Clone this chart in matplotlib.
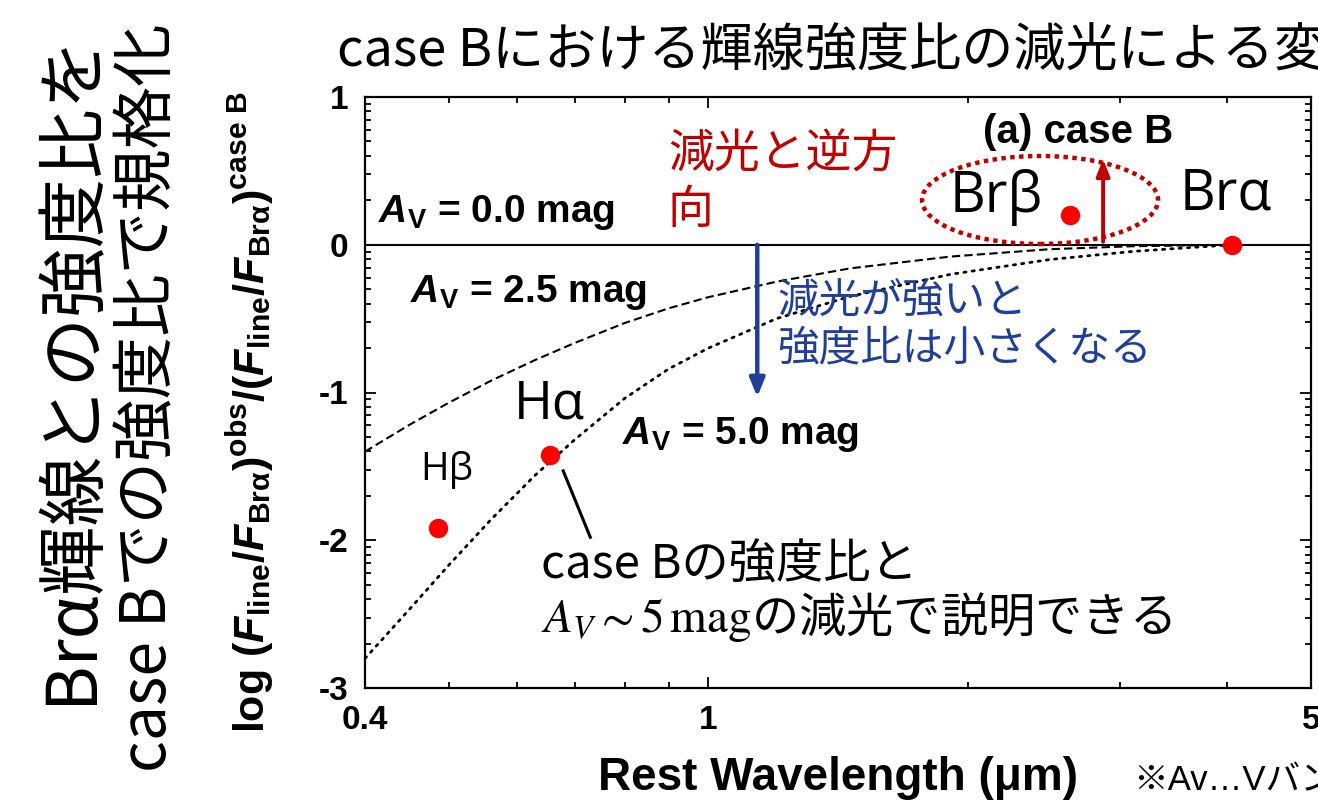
import numpy as np
import matplotlib
matplotlib.use("Agg")
import matplotlib.pyplot as plt
from matplotlib.patches import Ellipse
from matplotlib.ticker import FixedLocator, NullFormatter

# ---------------- data ----------------
line_names = ["Hβ", "Hα", "Brβ", "Brα"]
line_wavelength = [0.486, 0.656, 2.625, 4.05]
line_log_ratio = [-1.92, -1.42, 0.20, 0.0]

av25_wavelength = [0.40, 0.45, 0.50, 0.56, 0.63, 0.70, 0.80, 0.90, 1.0, 1.2, 1.46, 1.91, 2.49, 3.11, 4.05]
av25_log_ratio = [-1.40, -1.22, -1.07, -0.92, -0.78, -0.665, -0.53, -0.43, -0.355, -0.25, -0.16, -0.08, -0.03, -0.01, 0.0]

av50_wavelength = [0.40, 0.45, 0.50, 0.56, 0.63, 0.70, 0.80, 0.90, 1.0, 1.2, 1.46, 1.91, 2.49, 3.11, 4.05]
av50_log_ratio = [-2.80, -2.47, -2.17, -1.86, -1.56, -1.32, -1.04, -0.84, -0.70, -0.50, -0.35, -0.20, -0.10, -0.045, 0.0]

x_major = [0.4, 1, 5]
x_major_labels = ["0.4", "1", "5"]
x_minor = [0.5, 0.6, 0.7, 0.8, 0.9, 2, 3, 4]
y_major = [-3, -2, -1, 0, 1]
y_major_labels = ["-3", "-2", "-1", "0", "1"]

# ---------------- style ----------------
plt.rcParams['font.family'] = ['Liberation Sans', 'Noto Sans CJK JP', 'DejaVu Sans']
plt.rcParams['axes.unicode_minus'] = False
plt.rcParams['mathtext.fontset'] = 'custom'
plt.rcParams['mathtext.rm'] = 'Liberation Sans'
plt.rcParams['mathtext.it'] = 'Liberation Sans:italic'
plt.rcParams['mathtext.bf'] = 'Liberation Sans:bold'
try:
    plt.rcParams['mathtext.bfit'] = 'Liberation Sans:bold:italic'
except KeyError:
    pass

W, H = 1318, 801
fig = plt.figure(figsize=(W / 100, H / 100), dpi=100)

def px(x, y):
    return (x / W, 1 - y / H)

ax_l, ax_r, ax_t, ax_b = 365, 1311, 97, 688
ax = fig.add_axes([ax_l / W, 1 - ax_b / H, (ax_r - ax_l) / W, (ax_b - ax_t) / H])
ax.set_xscale('log')
ax.set_xlim(0.4, 5)
ax.set_ylim(-3, 1)

for s in ax.spines.values():
    s.set_linewidth(1.6)

ax.xaxis.set_major_locator(FixedLocator(x_major))
ax.set_xticklabels(x_major_labels)
ax.xaxis.set_minor_locator(FixedLocator(x_minor))
ax.xaxis.set_minor_formatter(NullFormatter())
ax.yaxis.set_major_locator(FixedLocator(y_major))
ax.set_yticklabels(y_major_labels)
y_minor = [m + np.log10(k) for m in range(-3, 1) for k in range(2, 10)]
ax.yaxis.set_minor_locator(FixedLocator(y_minor))
ax.tick_params(which='both', direction='in', top=True, right=True, width=1.3)
ax.tick_params(which='major', length=8, labelsize=24, pad=12)
ax.tick_params(which='minor', length=4.5)
for lab in ax.get_xticklabels() + ax.get_yticklabels():
    lab.set_fontweight('bold')

# zero line
ax.axhline(0, color='black', lw=1.5, zorder=2)

# extinction curves
ax.plot(av25_wavelength, av25_log_ratio, color='black', lw=1.5,
        linestyle=(0, (4, 2)), zorder=3)
ax.plot(av50_wavelength, av50_log_ratio, color='black', lw=2.0,
        linestyle=(0, (0.8, 2.2)), dash_capstyle='round', zorder=3)

# points
ax.plot(line_wavelength, line_log_ratio, 'o', color='#ff0000', ms=14, mec='none', zorder=5)

# arrows
ax.annotate('', xy=(1.14, -1.03), xytext=(1.14, 0.0),
            arrowprops=dict(arrowstyle='-|>,head_width=0.45,head_length=1.1',
                            color='#1f3f99', lw=3.2, shrinkA=0, shrinkB=0), zorder=4)
ax.annotate('', xy=(2.87, 0.58), xytext=(2.87, 0.02),
            arrowprops=dict(arrowstyle='-|>,head_width=0.4,head_length=1.0',
                            color='#c00000', lw=2.8, shrinkA=0, shrinkB=0), zorder=4)

# pointer line from Halpha
ax.plot([0.679, 0.730], [-1.53, -1.98], color='black', lw=2.2, zorder=4)

# dotted ellipse around Br beta
ell = Ellipse(((1040 - ax_l) / (ax_r - ax_l), (ax_b - 200) / (ax_b - ax_t)),
              236 / (ax_r - ax_l), 88 / (ax_b - ax_t), transform=ax.transAxes,
              fill=False, edgecolor='#c00000', lw=3.2, linestyle=(0, (1, 1)), zorder=4)
ax.add_patch(ell)

# ---------------- texts ----------------
cjk = ['Noto Sans CJK JP', 'DejaVu Sans']
lat = ['Open Sans', 'Noto Sans CJK JP', 'DejaVu Sans']

fig.text(*px(337, 52), 'case Bにおける輝線強度比の減光による変化', family=cjk,
         fontsize=37.5, ha='left', va='center')

fig.text(*px(72, 368), 'Brα輝線との強度比を', family=cjk, fontsize=50,
         rotation=90, ha='center', va='center')
fig.text(*px(148, 398), 'case Bでの強度比で規格化', family=cjk, fontsize=45,
         rotation=90, ha='center', va='center')

fig.text(*px(250, 412),
         r"log ($\mathbfit{F}_{\mathbf{line}}$/$\mathbfit{F}_{\mathbf{Br\alpha}}$)$^{\mathbf{obs}}$"
         r"/($\mathbfit{F}_{\mathbf{line}}$/$\mathbfit{F}_{\mathbf{Br\alpha}}$)$^{\mathbf{case\ B}}$",
         fontsize=31, fontweight='bold', rotation=90, ha='center', va='center')

fig.text(*px(838, 778), 'Rest Wavelength (μm)', fontsize=33, fontweight='bold',
         ha='center', va='center')
fig.text(*px(1133, 781), '※Av…Vバンド', family=['Liberation Sans', 'Noto Sans CJK JP'],
         fontsize=25, ha='left', va='center')

for xp, yp, s in [(378, 212, '0.0'), (410, 292, '2.5'), (622, 435, '5.0')]:
    fig.text(*px(xp, yp), r"$\mathbfit{A}_{\mathbf{V}}$ = " + s + " mag",
             fontsize=28, fontweight='bold', ha='left', va='center')

fig.text(*px(983, 132), '(a) case B', fontsize=29, fontweight='bold',
         ha='left', va='center')

fig.text(*px(950, 197), line_names[2], family=lat, fontsize=40, ha='left', va='center')
fig.text(*px(1180, 195), line_names[3], family=lat, fontsize=40, ha='left', va='center')
fig.text(*px(514, 405), line_names[1], family=lat, fontsize=38, ha='left', va='center')
fig.text(*px(420, 470), line_names[0], family=lat, fontsize=28, ha='left', va='center')

fig.text(*px(668, 182), '減光と逆方\n向', family=cjk, fontsize=33, color='#c00000',
         ha='left', va='center', linespacing=1.2)
fig.text(*px(777, 325), '減光が強いと\n強度比は小さくなる', family=cjk, fontsize=30,
         color='#1f3f99', ha='left', va='center', linespacing=1.2)
fig.text(*px(541, 565), 'case Bの強度比と', family=cjk, fontsize=34,
         ha='left', va='center')
fig.text(*px(541, 617), r"$A_V{\sim}5\,\mathrm{mag}$の減光で説明できる", family=cjk,
         fontsize=34, math_fontfamily='stix', ha='left', va='center')

fig.savefig('out.png', dpi=100)
